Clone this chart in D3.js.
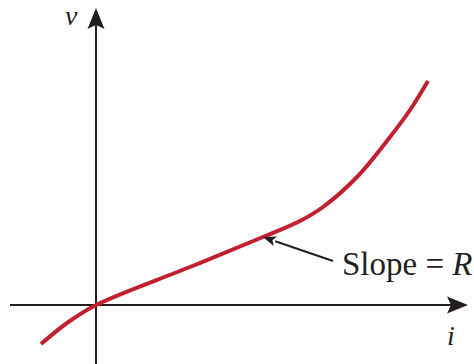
<!DOCTYPE html>
<html><head><meta charset="utf-8">
<script src="https://cdn.jsdelivr.net/npm/d3@7"></script>
<style>body{margin:0;background:#fff}svg{display:block}</style>
</head><body>
<script>
// Curve samples (current i, voltage v) in arbitrary units
const iValues = [-1.1, -0.58, 0, 1.88, 3.34, 4.08, 4.54, 5.22, 5.88, 6.28, 6.64];
const vValues = [-0.78, -0.36, 0, 0.76, 1.36, 1.68, 1.96, 2.56, 3.36, 3.9, 4.48];
const iAxisExtent = [-1.72, 7.44];
const vAxisExtent = [-1.18, 5.94];
const axisLabels = ["i", "v"];
const annotationLabel = ["Slope = ", "R"];
const annotationTip = [3.34, 1.36];
const annotationTail = [4.74, 0.88];
const annotationTextPos = [4.92, 0.6];

const W = 474, H = 364;
const svg = d3.select("body").append("svg").attr("width", W).attr("height", H);
const x = d3.scaleLinear().domain(iAxisExtent).range([10, 468]);
const y = d3.scaleLinear().domain(vAxisExtent).range([364, 8]);
const ink = "#231f20";
const FONT = '"Times New Roman"';

svg.append("line").attr("x1", x(iAxisExtent[0])).attr("x2", x(iAxisExtent[1]) - 14)
  .attr("y1", y(0)).attr("y2", y(0)).attr("stroke", ink).attr("stroke-width", 2);
svg.append("line").attr("x1", x(0)).attr("x2", x(0))
  .attr("y1", y(vAxisExtent[0])).attr("y2", y(vAxisExtent[1]) + 14).attr("stroke", ink).attr("stroke-width", 2);

const xt = x(iAxisExtent[1]), yt = y(0);
svg.append("path").attr("fill", ink)
  .attr("d", `M${xt},${yt} L${xt-21},${yt-8.5} L${xt-17},${yt} L${xt-21},${yt+8.5} Z`);
const xa = x(0), ya = y(vAxisExtent[1]);
svg.append("path").attr("fill", ink)
  .attr("d", `M${xa},${ya} L${xa-8.5},${ya+21} L${xa},${ya+17} L${xa+8.5},${ya+21} Z`);

const pts = iValues.map((d, k) => [d, vValues[k]]);
const line = d3.line().x(d => x(d[0])).y(d => y(d[1])).curve(d3.curveCatmullRom.alpha(0.5));
svg.append("path").datum(pts).attr("d", line).attr("fill", "none")
  .attr("stroke", "#c1202f").attr("stroke-width", 4).attr("stroke-linecap", "butt");

const tx = x(annotationTip[0]), ty = y(annotationTip[1]);
const sx = x(annotationTail[0]), sy = y(annotationTail[1]);
const ang = Math.atan2(sy - ty, sx - tx);
const L = 13, hw = 5;
const bx = tx + L * Math.cos(ang), by = ty + L * Math.sin(ang);
svg.append("line").attr("x1", sx).attr("y1", sy).attr("x2", bx).attr("y2", by)
  .attr("stroke", ink).attr("stroke-width", 2);
svg.append("path").attr("fill", ink).attr("d",
  `M${tx},${ty} L${bx - hw*Math.sin(ang)},${by + hw*Math.cos(ang)} L${tx + (L-3)*Math.cos(ang)},${ty + (L-3)*Math.sin(ang)} L${bx + hw*Math.sin(ang)},${by - hw*Math.cos(ang)} Z`);

svg.append("text").attr("x", x(iAxisExtent[1]) - 21).attr("y", y(0) + 40)
  .style("font-family", FONT).style("font-style", "italic").style("font-size", "28px")
  .style("fill", ink).text(axisLabels[0]);
svg.append("text").attr("x", x(0) - 31).attr("y", y(vAxisExtent[1]) + 17)
  .style("font-family", FONT).style("font-style", "italic").style("font-size", "28px")
  .style("fill", ink).text(axisLabels[1]);
const t = svg.append("text").attr("x", x(annotationTextPos[0])).attr("y", y(annotationTextPos[1]))
  .style("font-family", FONT).style("font-size", "33px").style("fill", ink);
t.append("tspan").text(annotationLabel[0]);
t.append("tspan").style("font-style", "italic").text(annotationLabel[1]);
</script>
</body></html>
